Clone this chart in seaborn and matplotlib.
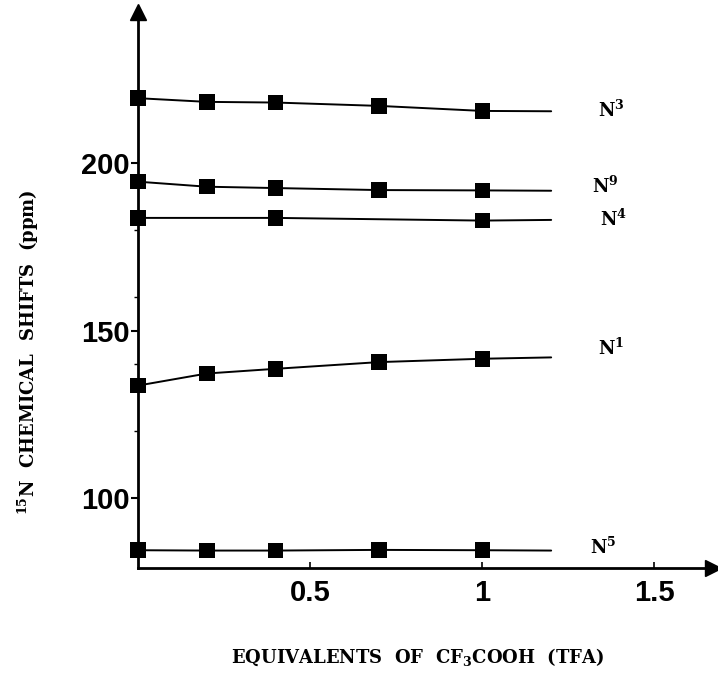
import numpy as np
import pandas as pd
import matplotlib
matplotlib.use("Agg")
import matplotlib.pyplot as plt
import seaborn as sns

# ---- data ----
series_names = ["N3", "N9", "N4", "N1", "N5"]
series_labels = [r"N$^{3}$", r"N$^{9}$", r"N$^{4}$", r"N$^{1}$", r"N$^{5}$"]
x_n3 = [0.0, 0.2, 0.4, 0.7, 1.0]
y_n3 = [219.3, 218.2, 218.0, 217.0, 215.5]
x_n9 = [0.0, 0.2, 0.4, 0.7, 1.0]
y_n9 = [194.4, 192.9, 192.5, 191.9, 191.8]
x_n4 = [0.0, 0.4, 1.0]
y_n4 = [183.6, 183.6, 182.8]
x_n1 = [0.0, 0.2, 0.4, 0.7, 1.0]
y_n1 = [133.6, 137.2, 138.6, 140.6, 141.6]
x_n5 = [0.0, 0.2, 0.4, 0.7, 1.0]
y_n5 = [84.5, 84.4, 84.4, 84.6, 84.5]
# where each drawn curve ends (no marker there)
line_end_x = 1.2
line_end_y = [215.4, 191.7, 183.0, 142.0, 84.4]

xs = [x_n3, x_n9, x_n4, x_n1, x_n5]
ys = [y_n3, y_n9, y_n4, y_n1, y_n5]

pts = pd.DataFrame({
    "eq": np.concatenate(xs),
    "shift": np.concatenate(ys),
    "series": np.concatenate([[n] * len(x) for n, x in zip(series_names, xs)]),
})
lines = pd.DataFrame({
    "eq": np.concatenate([x + [line_end_x] for x in xs]),
    "shift": np.concatenate([y + [e] for y, e in zip(ys, line_end_y)]),
    "series": np.concatenate([[n] * (len(x) + 1) for n, x in zip(series_names, xs)]),
})

sns.set_style("white")
plt.rcParams["mathtext.fontset"] = "dejavuserif"
plt.rcParams["mathtext.default"] = "bf"
plt.rcParams["text.color"] = "black"
plt.rcParams["xtick.color"] = "black"
plt.rcParams["ytick.color"] = "black"

fig = plt.figure(figsize=(7.18, 6.73), dpi=100)
ax = fig.add_axes([138 / 718, (673 - 568) / 673, 575 / 718, 556 / 673])

pal = {n: "black" for n in series_names}
sns.lineplot(data=lines, x="eq", y="shift", hue="series", palette=pal,
             linewidth=1.4, legend=False, ax=ax, sort=False, estimator=None)
sns.scatterplot(data=pts, x="eq", y="shift", hue="series", palette=pal,
                marker="s", s=125, edgecolor="black", linewidth=0,
                legend=False, ax=ax, zorder=5, clip_on=False)

ax.set_xlim(0, 1.67)
ax.set_ylim(79.2, 245)

for s in ["top", "right"]:
    ax.spines[s].set_visible(False)
for s in ["left", "bottom"]:
    ax.spines[s].set_linewidth(2.0)
    ax.spines[s].set_color("black")

# arrow heads
ax.plot(1, 0, ">k", transform=ax.transAxes, clip_on=False, markersize=11)
ax.plot(0, 1, "^k", transform=ax.transAxes, clip_on=False, markersize=11)

ax.set_yticks([100, 150, 200])
ax.set_yticks([120, 140, 160, 180], minor=True)
ax.set_xticks([0.5, 1, 1.5])
ax.set_xticklabels(["0.5", "1", "1.5"])
ax.tick_params(axis="y", which="major", direction="out", length=5, width=1.5,
               left=True, labelsize=21, pad=1, colors="black")
ax.tick_params(axis="y", which="minor", direction="out", length=3, width=1.0,
               left=True, colors="black")
ax.tick_params(axis="x", which="major", direction="in", length=4, width=1.2,
               bottom=True, labelsize=21, pad=8, colors="black")
for lab in ax.get_xticklabels() + ax.get_yticklabels():
    lab.set_fontweight("bold")
    lab.set_family("Liberation Sans")
    lab.set_color("black")

ax.set_xlabel("")
ax.set_ylabel("")
fig.text(418 / 718, 1 - 657 / 673, r"EQUIVALENTS  OF  CF$_{3}$COOH  (TFA)",
         ha="center", va="center", fontsize=13, fontweight="bold",
         family="DejaVu Serif", color="black")
fig.text(28 / 718, 1 - 352 / 673, r"$^{15}$N  CHEMICAL  SHIFTS  (ppm)",
         ha="center", va="center", rotation=90, fontsize=13,
         fontweight="bold", family="DejaVu Serif", color="black")

label_pos = [(598, 110), (592, 186), (600, 219), (598, 348), (590, 547)]
for lab, (px, py) in zip(series_labels, label_pos):
    fig.text(px / 718, 1 - py / 673, lab, ha="left", va="center",
             fontsize=13, fontweight="bold", family="DejaVu Serif", color="black")

fig.savefig("out.png", dpi=100)
